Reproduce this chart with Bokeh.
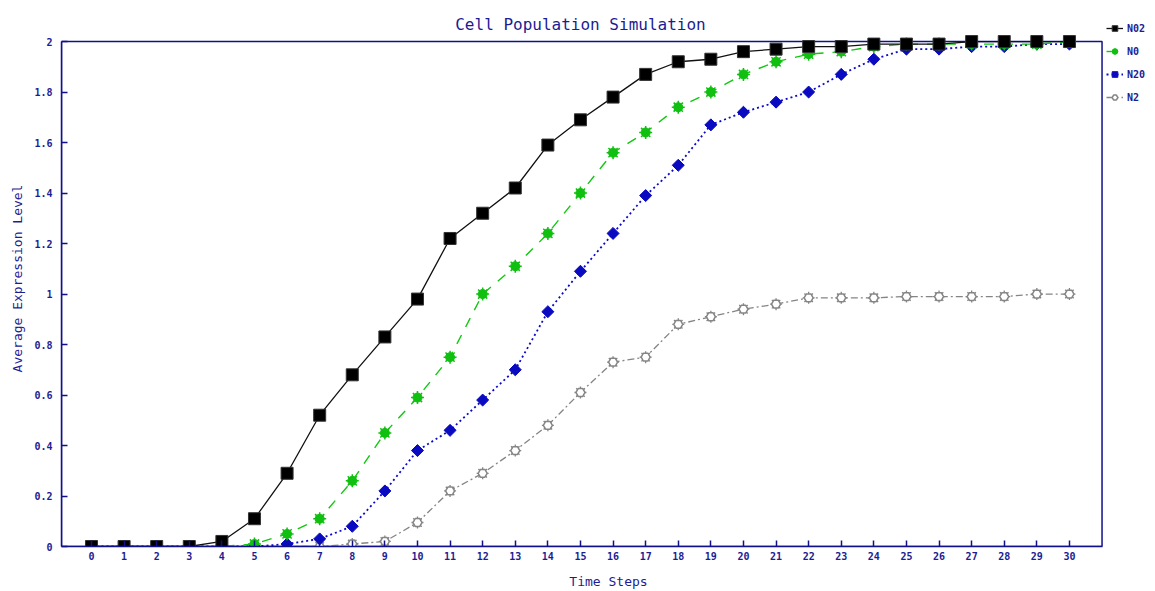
import math
from bokeh.plotting import figure
from bokeh.models import (Legend, LegendItem, FixedTicker, NumeralTickFormatter, Range1d,
                          BoxAnnotation, Label)
from bokeh.embed import file_html
from bokeh.resources import INLINE

steps = list(range(31))
n02 = [0, 0, 0, 0, 0.02, 0.11, 0.29, 0.52, 0.68, 0.83, 0.98, 1.22, 1.32, 1.42, 1.59, 1.69,
       1.78, 1.87, 1.92, 1.93, 1.96, 1.97, 1.98, 1.98, 1.99, 1.99, 1.99, 2.0, 2.0, 2.0, 2.0]
n0 = [0, 0, 0, 0, 0, 0.01, 0.05, 0.11, 0.26, 0.45, 0.59, 0.75, 1.0, 1.11, 1.24, 1.40,
      1.56, 1.64, 1.74, 1.80, 1.87, 1.92, 1.95, 1.96, 1.98, 1.99, 1.99, 1.99, 1.99, 1.99, 2.0]
n20 = [0, 0, 0, 0, 0, 0, 0.01, 0.03, 0.08, 0.22, 0.38, 0.46, 0.58, 0.70, 0.93, 1.09,
       1.24, 1.39, 1.51, 1.67, 1.72, 1.76, 1.80, 1.87, 1.93, 1.97, 1.97, 1.98, 1.98, 1.99, 1.99]
n2 = [0, 0, 0, 0, 0, 0, 0, 0, 0.01, 0.02, 0.095, 0.22, 0.29, 0.38, 0.48, 0.61,
      0.73, 0.75, 0.88, 0.91, 0.94, 0.96, 0.985, 0.985, 0.985, 0.99, 0.99, 0.99, 0.99, 1.0, 1.0]
y_ticks = [0, 0.2, 0.4, 0.6, 0.8, 1.0, 1.2, 1.4, 1.6, 1.8, 2.0]

NAVY = "#10108c"
TXT = "#1c1c94"
MONO = "DejaVu Sans Mono"

X0, X1 = -0.92, 31.0      # plot box in data units
Y0, Y1 = 0.0, 2.0

p = figure(width=1155, height=591, output_backend="svg", toolbar_location=None,
           x_range=Range1d(X0, 32.64), y_range=Range1d(Y0, 2.123),
           min_border_left=61, min_border_right=0, min_border_top=10, min_border_bottom=0)

p.xgrid.visible = False
p.ygrid.visible = False
p.outline_line_color = None
p.background_fill_color = "white"
p.border_fill_color = "white"

# blue box around the plotting area
p.add_layout(BoxAnnotation(left=X0, right=X1, bottom=Y0, top=Y1, fill_alpha=0,
                           line_color=NAVY, line_alpha=1.0, line_width=1.5, level="underlay"))

for ax in (p.xaxis[0], p.yaxis[0]):
    ax.axis_line_color = NAVY
    ax.axis_line_width = 1.5
    ax.major_tick_line_color = NAVY
    ax.major_tick_line_width = 1.5
    ax.major_tick_in = 6
    ax.major_tick_out = 0
    ax.minor_tick_line_color = None
    ax.major_label_text_font = MONO
    ax.major_label_text_font_style = "bold"
    ax.major_label_text_font_size = "10px"
    ax.major_label_text_color = TXT
    ax.axis_label_text_font = MONO
    ax.axis_label_text_font_style = "normal"
    ax.axis_label_text_font_size = "13px"
    ax.axis_label_text_color = TXT

p.xaxis.bounds = (X0, X1)
p.xaxis.ticker = FixedTicker(ticks=steps)
p.xaxis.major_label_standoff = 5
p.xaxis.axis_label = "Time Steps"
p.xaxis.axis_label_standoff = 11
p.yaxis.bounds = (Y0, Y1)
p.yaxis.ticker = FixedTicker(ticks=y_ticks)
p.yaxis.formatter = NumeralTickFormatter(format="0.[0]")
p.yaxis.major_label_standoff = 9
p.yaxis.axis_label = "Average Expression Level"
p.yaxis.axis_label_standoff = 6

# title
p.add_layout(Label(x=15.0, y=2.067, text="Cell Population Simulation",
                   text_font=MONO, text_font_size="16px", text_color=TXT,
                   text_align="center", text_baseline="middle"))

# N2 (grey, dash-dot, open marker)
l_n2 = p.line(steps, n2, line_color="#858585", line_width=1.3, line_dash="7 3 2 3")
m_n2a = p.scatter(steps, n2, marker="asterisk", size=12, line_color="#858585", line_width=1.3)
m_n2b = p.scatter(steps, n2, marker="hex", size=9, fill_color="white", line_color="#858585", line_width=1.5)

# N20 (blue, dotted, diamonds)
l_n20 = p.line(steps, n20, line_color="#0a0ac8", line_width=1.8, line_dash="2 3")
m_n20 = p.scatter(steps, n20, marker="square", angle=math.pi / 4, size=8.5,
                  fill_color="#0a0ac0", line_color="#0a0ac0")

# N0 (green, dashed, stars)
l_n0 = p.line(steps, n0, line_color="#10c810", line_width=1.4, line_dash="10 9")
m_n0a = p.scatter(steps, n0, marker="asterisk", size=13, line_color="#10c010", line_width=1.5)
m_n0b = p.scatter(steps, n0, marker="circle", size=9, fill_color="#10c010", line_color="#10c010")

# N02 (black, solid, squares)
l_n02 = p.line(steps, n02, line_color="#111111", line_width=1.3)
m_n02 = p.scatter(steps, n02, marker="square", size=12, fill_color="black", line_color="#333333")

legend = Legend(items=[
    LegendItem(label="N02", renderers=[l_n02, m_n02]),
    LegendItem(label="N0", renderers=[l_n0, m_n0a, m_n0b]),
    LegendItem(label="N20", renderers=[l_n20, m_n20]),
    LegendItem(label="N2", renderers=[l_n2, m_n2a, m_n2b]),
], location=(1045, 442))
legend.border_line_color = None
legend.background_fill_alpha = 0
legend.label_text_font = MONO
legend.label_text_font_style = "bold"
legend.label_text_font_size = "10px"
legend.label_text_color = TXT
legend.glyph_width = 17
legend.glyph_height = 14
legend.spacing = 9
legend.padding = 2
legend.margin = 0
legend.label_standoff = 4
p.add_layout(legend, "center")

open("out.html", "w").write(file_html(p, INLINE))
